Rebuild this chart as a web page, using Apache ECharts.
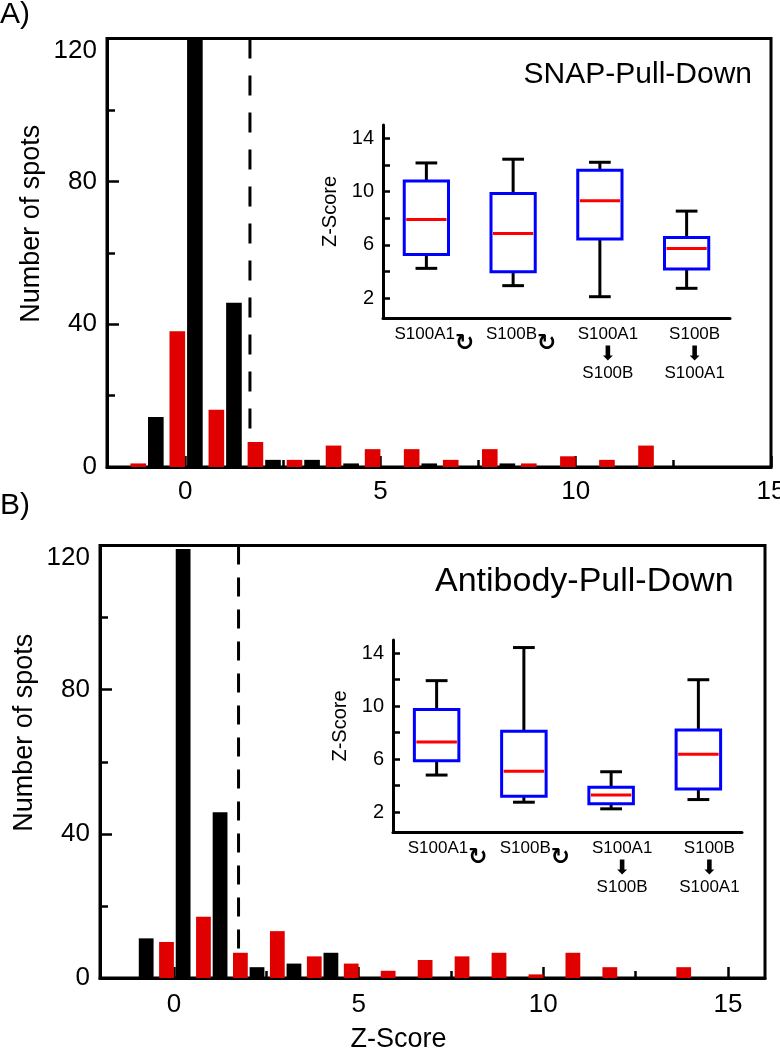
<!DOCTYPE html>
<html>
<head>
<meta charset="utf-8">
<script src="https://cdn.jsdelivr.net/npm/echarts@6/dist/echarts.min.js"></script>
<style>html,body{margin:0;padding:0;background:#fff}#c{width:780px;height:1050px}</style>
</head>
<body>
<div id="c"></div>
<script>
// ---------------- DATA ----------------
// Panel A (SNAP-Pull-Down) histogram
const redBinsA = [-1.2, -0.2, 0.8, 1.8, 2.8, 3.8, 4.8, 5.8, 6.8, 7.8, 8.8, 9.8, 10.8, 11.8];
const redCountsA = [1, 38, 16, 7, 2, 6, 5, 5, 2, 5, 1, 3, 2, 6];
const blackBinsA = [-0.75, 0.25, 1.25, 2.25, 3.25, 4.25, 5.25, 6.25, 7.25, 8.25];
const blackCountsA = [14, 126, 46, 2, 2, 1, 0, 1, 0, 1];
const thresholdA = 1.66;

// Panel B (Antibody-Pull-Down) histogram
const redBinsB = [-0.2, 0.8, 1.8, 2.8, 3.8, 4.8, 5.8, 6.8, 7.8, 8.8, 9.8, 10.8, 11.8, 12.8, 13.8];
const redCountsB = [10, 17, 7, 13, 6, 4, 2, 5, 6, 7, 1, 7, 3, 0, 3];
const blackBinsB = [-0.75, 0.25, 1.25, 2.25, 3.25, 4.25];
const blackCountsB = [11, 119, 46, 3, 4, 7];
const thresholdB = 1.75;

// Axis ticks
const xMajorTicks = [0, 5, 10, 15];
const xMinorTicks = [2.5, 7.5, 12.5];
const yMainTicks = [0, 40, 80, 120];
const insetYLabels = [2, 6, 10, 14];
const insetYTicks = [2, 4, 6, 8, 10, 12, 14];

// Inset box plots: [lower whisker, Q1, median, Q3, upper whisker]
const boxCategories = ['S100A1 ↻', 'S100B ↻', 'S100A1 → S100B', 'S100B → S100A1'];
const boxStatsA = [
  [4.23, 5.28, 7.9, 10.8, 12.15],
  [2.93, 3.97, 6.85, 9.85, 12.43],
  [2.1, 6.43, 9.3, 11.6, 12.2],
  [2.73, 4.18, 5.73, 6.55, 8.53]
];
const boxStatsB = [
  [4.8, 5.88, 7.3, 9.76, 11.93],
  [2.75, 3.2, 5.08, 8.1, 14.43],
  [2.25, 2.63, 3.3, 3.88, 5.05],
  [2.95, 3.75, 6.38, 8.2, 12.0]
];

// ---------------- STYLE ----------------
const FONT = 'Liberation Sans, Arial, sans-serif';
const RED = '#E00000';
const BAR_HALF = 0.2;

function barRender(color) {
  return function (params, api) {
    const x = api.value(0), y = api.value(1);
    if (!y) return;
    const a = api.coord([x - BAR_HALF, y]);
    const b = api.coord([x + BAR_HALF, 0]);
    const cs = params.coordSys;
    const shape = echarts.graphic.clipRectByRect(
      {x: a[0], y: a[1], width: b[0] - a[0], height: b[1] - a[1]},
      {x: cs.x, y: cs.y, width: cs.width, height: cs.height});
    return shape && {type: 'rect', shape: shape, style: {fill: color}};
  };
}

function boxRender(params, api) {
  const i = api.value(0);
  const lo = api.value(1), q1 = api.value(2), med = api.value(3), q3 = api.value(4), hi = api.value(5);
  const band = api.size([1, 0])[0];
  const hw = band * 0.255, cw = band * 0.125;
  const pLo = api.coord([i, lo]), pQ1 = api.coord([i, q1]), pMed = api.coord([i, med]);
  const pQ3 = api.coord([i, q3]), pHi = api.coord([i, hi]);
  const cx = pLo[0];
  const blk = {stroke: '#000', lineWidth: 3};
  return {type: 'group', children: [
    {type: 'line', shape: {x1: cx, y1: pLo[1], x2: cx, y2: pQ1[1]}, style: blk},
    {type: 'line', shape: {x1: cx, y1: pQ3[1], x2: cx, y2: pHi[1]}, style: blk},
    {type: 'line', shape: {x1: cx - cw, y1: pLo[1], x2: cx + cw, y2: pLo[1]}, style: blk},
    {type: 'line', shape: {x1: cx - cw, y1: pHi[1], x2: cx + cw, y2: pHi[1]}, style: blk},
    {type: 'rect', shape: {x: cx - hw, y: pQ3[1], width: 2 * hw, height: pQ1[1] - pQ3[1]},
      style: {fill: 'none', stroke: '#0000FF', lineWidth: 3}},
    {type: 'line', shape: {x1: cx - hw + 2, y1: pMed[1], x2: cx + hw - 2, y2: pMed[1]},
      style: {stroke: '#FF0000', lineWidth: 3}}
  ]};
}

function catLabel(value) {
  if (value.indexOf('→') >= 0) {
    const parts = value.split('→').map(s => s.trim());
    return '{s|' + parts[0] + '}\n{a|⬇}\n{s|' + parts[1] + '}';
  }
  const parts = value.split(' ');
  return '{s|' + parts[0] + '}{c|' + parts[1] + '}';
}

const insetRich = {
  s: {fontSize: 17, lineHeight: 19, fontFamily: FONT, color: '#000', verticalAlign: 'top'},
  c: {fontSize: 23, lineHeight: 19, fontFamily: 'DejaVu Sans', fontWeight: 'bold', color: '#000',
      padding: [7, 0, 0, 0], verticalAlign: 'top'},
  a: {fontSize: 20, lineHeight: 20, fontFamily: 'DejaVu Sans', color: '#000'}
};

function mainX(gridIndex, max, margin, name) {
  return [{
    type: 'value', gridIndex: gridIndex, min: -2, max: max, position: 'bottom',
    axisLine: {show: true, onZero: false, lineStyle: {color: '#000', width: 3}},
    axisTick: {show: true, inside: true, length: 11, customValues: xMajorTicks,
      lineStyle: {color: '#000', width: 2.5}},
    axisLabel: {customValues: xMajorTicks, fontSize: 26, fontFamily: FONT, color: '#000', margin: margin},
    splitLine: {show: false},
    name: name || '', nameLocation: 'middle', nameGap: 48, nameMoveOverlap: false,
    nameTextStyle: {fontSize: 27, fontFamily: FONT, color: '#000', padding: [0, 68, 0, 0]}
  }, {
    type: 'value', gridIndex: gridIndex, min: -2, max: max, position: 'bottom',
    axisLine: {show: false, onZero: false},
    axisTick: {show: true, inside: true, length: 7, customValues: xMinorTicks,
      lineStyle: {color: '#000', width: 2.5}},
    axisLabel: {show: false},
    splitLine: {show: false}
  }];
}

function mainY(gridIndex) {
  return {
    type: 'value', gridIndex: gridIndex, min: yMainTicks[0], max: yMainTicks[yMainTicks.length - 1],
    interval: yMainTicks[1] - yMainTicks[0], position: 'left',
    axisLine: {show: true, onZero: false, lineStyle: {color: '#000', width: 3}},
    axisTick: {show: true, inside: true, length: 12, lineStyle: {color: '#000', width: 2.5}},
    minorTick: {show: true, splitNumber: 2, length: 8, lineStyle: {color: '#000', width: 2.5}},
    axisLabel: {fontSize: 26, fontFamily: FONT, color: '#000', margin: 10,
      formatter: v => (v === yMainTicks[yMainTicks.length - 1] ? '{t|' + v + '}' : '' + v),
      rich: {t: {fontSize: 26, fontFamily: FONT, color: '#000', padding: [24, 0, 0, 0]}}},
    splitLine: {show: false}, minorSplitLine: {show: false},
    name: 'Number of spots', nameLocation: 'middle', nameGap: 62, nameMoveOverlap: false,
    nameTextStyle: {fontSize: 27, fontFamily: FONT, color: '#000', padding: [0, 0, 0, 58]}
  };
}

function insetX(gridIndex, shift) {
  return {
    type: 'category', gridIndex: gridIndex, data: boxCategories, position: 'bottom',
    axisLine: {show: true, onZero: false, lineStyle: {color: '#000', width: 3}},
    axisTick: {show: false},
    axisLabel: {interval: 0, margin: 8, formatter: catLabel, rich: insetRich,
      padding: [0, 0, 0, shift]},
    splitLine: {show: false}
  };
}

function insetY(gridIndex) {
  return {
    type: 'value', gridIndex: gridIndex, min: 0.5, max: 15, position: 'left',
    axisLine: {show: true, onZero: false, lineStyle: {color: '#000', width: 3}},
    axisTick: {show: true, inside: true, length: 7, customValues: insetYTicks,
      lineStyle: {color: '#000', width: 2.5}},
    axisLabel: {customValues: insetYLabels, fontSize: 20, fontFamily: FONT, color: '#000', margin: 9},
    splitLine: {show: false},
    name: 'Z-Score', nameLocation: 'middle', nameGap: 43, nameMoveOverlap: false,
    nameTextStyle: {fontSize: 20, fontFamily: FONT, color: '#000', padding: [0, 0, 0, 20]}
  };
}

const chart = echarts.init(document.getElementById('c'), null, {renderer: 'canvas'});
const xa = mainX(0, 15, 12);
const xb = mainX(2, 16, 14, 'Z-Score');

chart.setOption({
  backgroundColor: '#fff',
  animation: false,
  title: [
    {text: 'A)', left: 0, top: 0, padding: 0, textStyle: {fontSize: 30, fontWeight: 'normal', fontFamily: FONT, color: '#000'}},
    {text: 'SNAP-Pull-Down', right: 28, top: 60, padding: 0, textStyle: {fontSize: 30, fontWeight: 'normal', fontFamily: FONT, color: '#000'}},
    {text: 'B)', left: 0, top: 491, padding: 0, textStyle: {fontSize: 30, fontWeight: 'normal', fontFamily: FONT, color: '#000'}},
    {text: 'Antibody-Pull-Down', left: 435, top: 565, padding: 0, textStyle: {fontSize: 34, fontWeight: 'normal', fontFamily: FONT, color: '#000'}}
  ],
  grid: [
    {left: 107, top: 38.5, width: 664, height: 428.5, show: true, borderColor: '#000', borderWidth: 3, outerBoundsMode: 'none'},
    {left: 383, top: 125, width: 347, height: 193, outerBoundsMode: 'none'},
    {left: 100, top: 545.5, width: 665, height: 432.5, show: true, borderColor: '#000', borderWidth: 3, outerBoundsMode: 'none'},
    {left: 393, top: 640, width: 349, height: 192, outerBoundsMode: 'none'}
  ],
  xAxis: [xa[0], xa[1], insetX(1, 16), xb[0], xb[1], insetX(3, 22)],
  yAxis: [mainY(0), insetY(1), mainY(2), insetY(3)],
  series: [
    {type: 'line', xAxisIndex: 0, yAxisIndex: 0, z: 1, symbol: 'none', silent: true,
      data: [[thresholdA, yMainTicks[yMainTicks.length - 1]], [thresholdA, 0]],
      lineStyle: {color: '#000', width: 3, type: [20, 17]}},
    {type: 'custom', xAxisIndex: 0, yAxisIndex: 0, z: 2, renderItem: barRender(RED),
      data: redBinsA.map((x, i) => [x, redCountsA[i]])},
    {type: 'custom', xAxisIndex: 0, yAxisIndex: 0, z: 2, renderItem: barRender('#000'),
      data: blackBinsA.map((x, i) => [x, blackCountsA[i]])},
    {type: 'custom', xAxisIndex: 2, yAxisIndex: 1, z: 3, renderItem: boxRender,
      encode: {x: 0, y: [1, 2, 3, 4, 5]},
      data: boxStatsA.map((d, i) => [i].concat(d))},

    {type: 'line', xAxisIndex: 3, yAxisIndex: 2, z: 1, symbol: 'none', silent: true,
      data: [[thresholdB, yMainTicks[yMainTicks.length - 1]], [thresholdB, 0]],
      lineStyle: {color: '#000', width: 3, type: [19, 13]}},
    {type: 'custom', xAxisIndex: 3, yAxisIndex: 2, z: 2, renderItem: barRender(RED),
      data: redBinsB.map((x, i) => [x, redCountsB[i]])},
    {type: 'custom', xAxisIndex: 3, yAxisIndex: 2, z: 2, renderItem: barRender('#000'),
      data: blackBinsB.map((x, i) => [x, blackCountsB[i]])},
    {type: 'custom', xAxisIndex: 5, yAxisIndex: 3, z: 3, renderItem: boxRender,
      encode: {x: 0, y: [1, 2, 3, 4, 5]},
      data: boxStatsB.map((d, i) => [i].concat(d))}
  ]
});
</script>
</body>
</html>
